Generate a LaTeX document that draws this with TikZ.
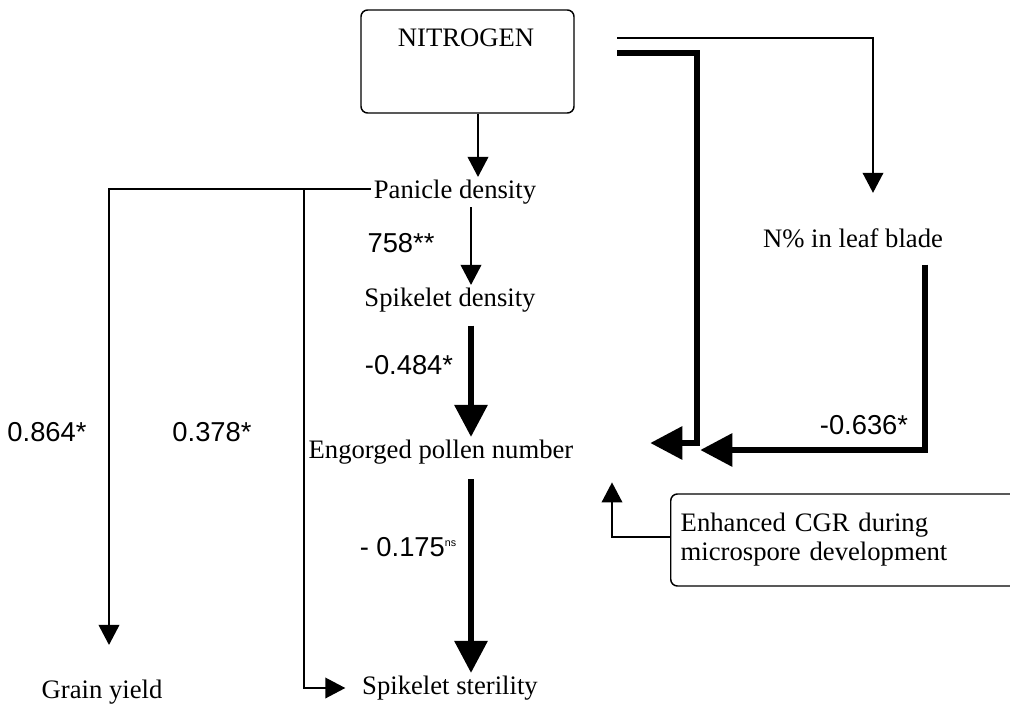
\documentclass[tikz,border=0pt]{standalone}
\usepackage{fontspec}
\setmainfont{Liberation Serif}
\newfontfamily\numfont{Liberation Sans}
\usetikzlibrary{arrows.meta}
\begin{document}
\begin{tikzpicture}[x=0.75pt,y=-0.75pt,
  txt/.style={inner sep=2pt, font=\fontsize{20}{22}\selectfont},
  num/.style={inner sep=0pt, font=\numfont\fontsize{20.5}{22}\selectfont},
  box/.style={draw, line width=1.1pt, rounded corners=5pt},
  thinarr/.style={line width=1.1pt, line join=miter, -{Triangle[length=15pt,width=15.5pt]}},
  thickarr/.style={line width=4.5pt, line join=miter, -{Triangle[length=24pt,width=24pt]}},
]
\useasboundingbox (0,0) rectangle (1010,707);

% boxes
\node[box, minimum width=159.75pt, minimum height=77.25pt] (nitbox) at (467.5,61.5) {};
\node[txt] (nit) at (466,38) {NITROGEN};
\node[box, anchor=west, minimum height=69pt, text width=300pt, inner xsep=7.5pt,
      align=left, font=\fontsize{20}{21.75}\selectfont] (cgr) at (670,540)
      {Enhanced CGR during\\microspore development};

% text nodes
\node[txt] (pan) at (455,192) {Panicle density};
\node[txt] (spd) at (450,300) {Spikelet density};
\node[txt] (eng) at (441,452) {Engorged pollen number};
\node[txt] (ster) at (450,688) {Spikelet sterility};
\node[txt] (gy) at (102,692) {Grain yield};
\node[txt] (nleaf) at (853,238) {N\% in leaf blade};

% numbers
\node[num] (l758) at (401,243) {758**};
\node[num] (l484) at (409,365) {-0.484*};
\node[num] (l175) at (408,547) {- 0.175\raisebox{0.7ex}{\fontsize{8}{8}\selectfont ns}};
\node[num] (l864) at (47,432) {0.864*};
\node[num] (l378) at (212,432) {0.378*};
\node[num] (l636) at (864,425) {-0.636*};

% helper coordinates (columns and rows)
\coordinate (colN) at (478,0);
\coordinate (colS) at (471,0);
\coordinate (colG) at (109,0);
\coordinate (colT) at (304,0);
\coordinate (colR) at (873,0);
\coordinate (colB) at (697,0);
\coordinate (colL) at (925,0);
\coordinate (colC) at (612,0);
\coordinate (rowP) at (0,189);
\coordinate (rowA) at (0,38);
\coordinate (rowB) at (0,53);
\coordinate (rowE1) at (0,443);
\coordinate (rowE2) at (0,450);
\coordinate (rowC) at (0,537);

% central chain
\draw[thinarr] (nitbox.south -| colN) -- (pan.north -| colN);
\draw[thinarr] (pan.south -| colS) -- (spd.north -| colS);
\draw[thickarr, shorten <=8pt] (spd.south -| colS) -- (eng.north -| colS);
\draw[thickarr, shorten <=9pt] (eng.south -| colS) -- (ster.north -| colS);

% from panicle density to grain yield and sterility
\draw[thinarr, shorten >=24pt] (pan.west |- rowP) -| (colG |- gy.north);
\draw[thinarr, shorten >=10.5pt] (colT |- rowP) |- (ster.west);

% from nitrogen to leaf
\draw[thinarr, shorten <=32pt, shorten >=24.5pt] (nitbox.east |- rowA) -| (colR |- nleaf.north);

% thick from nitrogen to engorged pollen
\draw[thickarr, shorten <=32pt, shorten >=55.5pt] (nitbox.east |- rowB) -| (colB |- rowE1) -- (eng.east |- rowE1);

% thick from leaf to engorged pollen
\draw[thickarr, shorten <=10.5pt, shorten >=93pt] (nleaf.south -| colL) -- (colL |- rowE2) -- (eng.east |- rowE2);

% from CGR
\draw[thinarr, shorten >=11.5pt] (cgr.west |- rowC) -| (colC |- eng.south);
\end{tikzpicture}
\end{document}
